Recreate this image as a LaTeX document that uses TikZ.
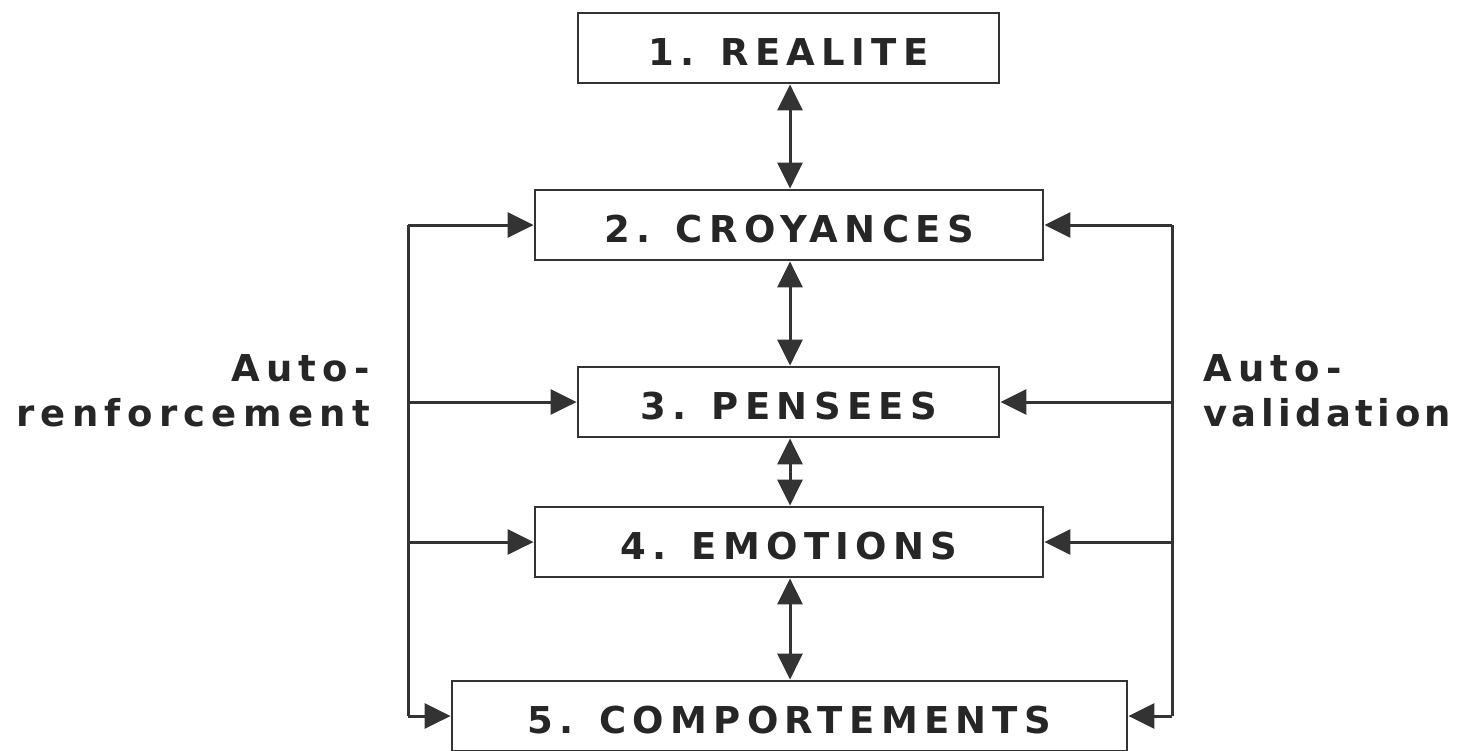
\documentclass[tikz,border=0pt]{standalone}
\usepackage{fontspec}
\setmainfont{DejaVu Sans}[BoldFont={DejaVu Sans Bold}]
\newfontfamily\boxfont{DejaVu Sans Bold}[LetterSpace=17]
\newfontfamily\tightfont{DejaVu Sans Bold}[LetterSpace=12]
\usetikzlibrary{arrows.meta}
\definecolor{ink}{HTML}{333333}
\begin{document}
\begin{tikzpicture}[x=1pt,y=-1pt,
  stage/.style={draw=ink,line width=2.8pt,rectangle,minimum height=70pt,inner sep=0pt,
    text height=35pt,text depth=0pt,
    font=\boxfont\fontsize{37}{44}\selectfont,text=black!85},
  link/.style={draw=ink,line width=3pt},
  tip/.style={-{Triangle[length=26pt,width=25pt]}},
  both/.style={{Triangle[length=26pt,width=25pt]}-{Triangle[length=26pt,width=25pt]}},
  side/.style={font=\boxfont\fontsize{37}{45}\selectfont,text=black!85,inner sep=0pt}]
\useasboundingbox (0,0) rectangle (1461,750);
% the five stages
\node[stage,minimum width=421pt] (r1) at (788.5,48) {1. REALITE};
\node[stage,minimum width=508pt] (r2) at (789,225) {2. CROYANCES};
\node[stage,minimum width=421pt] (r3) at (788.5,402) {3. PENSEES};
\node[stage,minimum width=508pt] (r4) at (789,542) {4. EMOTIONS};
\node[stage,minimum width=675pt] (r5) at (789.5,716) {5. COMPORTEMENTS};
% two-way links down the middle
\draw[link,both] (r1.south -| 790,0) -- (r2.north -| 790,0);
\draw[link,both] (r2.south -| 790,0) -- (r3.north -| 790,0);
\draw[link,both] (r3.south -| 790,0) -- (r4.north -| 790,0);
\draw[link,both] (r4.south -| 790,0) -- (r5.north -| 790,0);
% left feedback loop
\coordinate (L2) at (408,225);
\coordinate (L3) at (408,402);
\coordinate (L4) at (408,542);
\coordinate (L5) at (408,716);
\draw[link] (L2) -- (L5);
\draw[link,tip] (L2) -- (r2.west);
\draw[link,tip] (L3) -- (r3.west);
\draw[link,tip] (L4) -- (r4.west);
\draw[link,tip] (L5) -- (r5.west);
% right feedback loop
\coordinate (R2) at (1172,225);
\coordinate (R3) at (1172,402);
\coordinate (R4) at (1172,542);
\coordinate (R5) at (1172,716);
\draw[link] (R2) -- (R5);
\draw[link,tip] (R2) -- (r2.east);
\draw[link,tip] (R3) -- (r3.east);
\draw[link,tip] (R4) -- (r4.east);
\draw[link,tip] (R5) -- (r5.east);
% loop labels
\node[side,align=right,anchor=east] (lab1) at (370,391) {Auto-\\renforcement};
\node[side,align=left,anchor=west] (lab2) at (1203,391) {Auto-\\{\tightfont validation}};
\end{tikzpicture}
\end{document}
